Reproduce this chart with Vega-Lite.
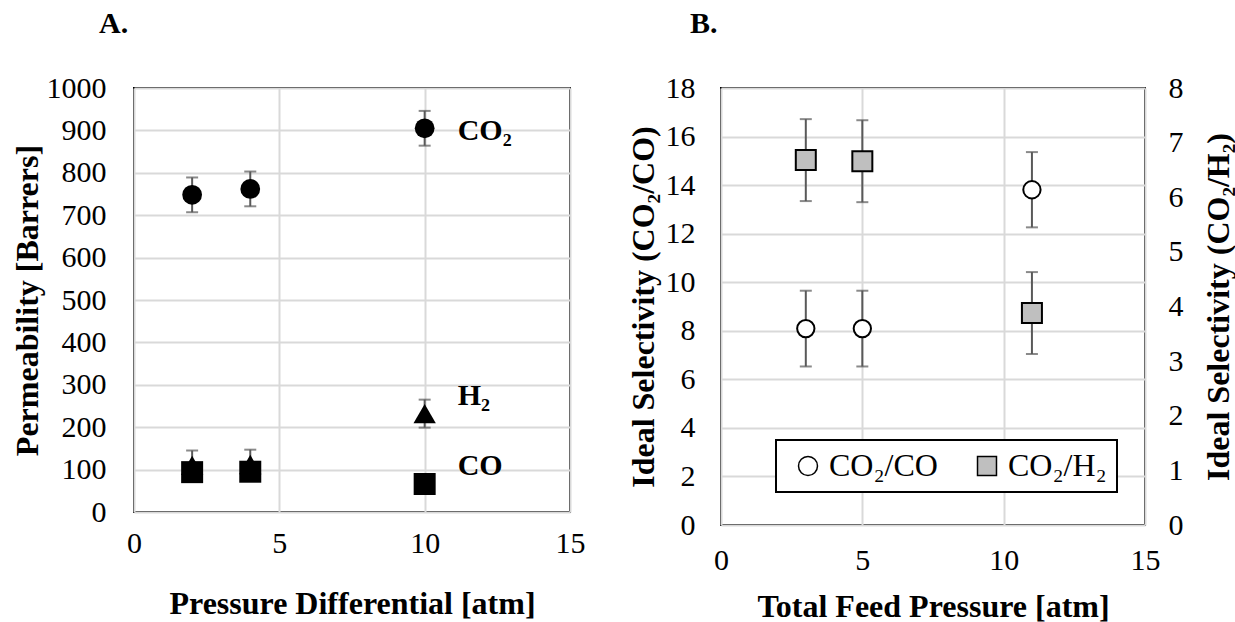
{
  "$schema": "https://vega.github.io/schema/vega-lite/v6.json",
  "autosize": {"type": "pad"},
  "padding": {"left": 10, "top": 8, "right": 0, "bottom": 0},
  "background": "white",
  "spacing": 40,
  "datasets": {
    "perm": [
      {"gas": "CO2", "pressure": 2, "perm": 748, "err": 41},
      {"gas": "CO2", "pressure": 4, "perm": 762, "err": 41},
      {"gas": "CO2", "pressure": 10, "perm": 905, "err": 41},
      {"gas": "H2", "pressure": 2, "perm": 110, "err": 35},
      {"gas": "H2", "pressure": 4, "perm": 112, "err": 35},
      {"gas": "H2", "pressure": 10, "perm": 232, "err": 33},
      {"gas": "CO", "pressure": 2, "perm": 94, "err": null},
      {"gas": "CO", "pressure": 4, "perm": 95, "err": null},
      {"gas": "CO", "pressure": 10, "perm": 66, "err": null}
    ],
    "permLabels": [
      {"pressure": 10, "perm": 899, "label": "CO₂"},
      {"pressure": 10, "perm": 274, "label": "H₂"},
      {"pressure": 10, "perm": 109, "label": "CO"}
    ],
    "sel": [
      {"ratio": "CO₂/CO", "pressure": 3, "sel": 8.09, "err": 1.56},
      {"ratio": "CO₂/CO", "pressure": 5, "sel": 8.09, "err": 1.56},
      {"ratio": "CO₂/CO", "pressure": 11, "sel": 13.81, "err": 1.55},
      {"ratio": "CO₂/H₂", "pressure": 3, "sel": 6.68, "err": 0.75},
      {"ratio": "CO₂/H₂", "pressure": 5, "sel": 6.66, "err": 0.75},
      {"ratio": "CO₂/H₂", "pressure": 11, "sel": 3.88, "err": 0.75}
    ]
  },
  "hconcat": [
    {
      "title": {"text": "A.", "dx": -35},
      "width": 436,
      "height": 424,
      "encoding": {
        "x": {"field": "pressure", "type": "quantitative", "scale": {"domain": [0, 15], "nice": false},
              "axis": {"values": [0, 5, 10, 15], "title": "Pressure Differential [atm]", "labelPadding": 16, "titlePadding": 30}},
        "y": {"field": "perm", "type": "quantitative", "scale": {"domain": [0, 1000], "nice": false},
              "axis": {"values": [0, 100, 200, 300, 400, 500, 600, 700, 800, 900, 1000], "format": "d", "title": "Permeability [Barrers]", "labelPadding": 28, "titlePadding": 2}}
      },
      "layer": [
        {
          "data": {"name": "perm"},
          "transform": [{"filter": "isValid(datum.err)"}],
          "mark": {"type": "errorbar", "ticks": {"size": 12}, "color": "#595959", "thickness": 2},
          "encoding": {"yError": {"field": "err"}}
        },
        {
          "data": {"name": "perm"},
          "transform": [{"filter": "datum.gas === 'CO2'"}],
          "mark": {"type": "point", "shape": "circle", "filled": true, "color": "black", "opacity": 1, "size": 390}
        },
        {
          "data": {"name": "perm"},
          "transform": [{"filter": "datum.gas === 'H2'"}],
          "mark": {"type": "point", "shape": "triangle-up", "filled": true, "color": "black", "opacity": 1, "size": 500}
        },
        {
          "data": {"name": "perm"},
          "transform": [{"filter": "datum.gas === 'CO'"}],
          "mark": {"type": "point", "shape": "square", "filled": true, "color": "black", "opacity": 1, "size": 484}
        },
        {
          "data": {"name": "permLabels"},
          "mark": {"type": "text", "align": "left", "baseline": "middle", "dx": 33, "font": "Liberation Serif", "fontSize": 30, "fontWeight": "bold", "color": "black"},
          "encoding": {"text": {"field": "label"}}
        }
      ]
    },
    {
      "title": {"text": "B.", "dx": -31},
      "width": 424,
      "height": 437,
      "data": {"name": "sel"},
      "encoding": {
        "x": {"field": "pressure", "type": "quantitative", "scale": {"domain": [0, 15], "nice": false},
              "axis": {"values": [0, 5, 10, 15], "title": "Total Feed Pressure [atm]", "labelPadding": 20, "titlePadding": 16}}
      },
      "layer": [
        {
          "transform": [{"filter": "datum.ratio === 'CO₂/CO'"}],
          "encoding": {
            "y": {"field": "sel", "type": "quantitative", "scale": {"domain": [0, 18], "nice": false},
                  "axis": {"values": [0, 2, 4, 6, 8, 10, 12, 14, 16, 18], "orient": "left", "title": "Ideal Selectivity (CO₂/CO)", "labelPadding": 26, "titlePadding": 5}}
          },
          "layer": [
            {
              "mark": {"type": "errorbar", "ticks": {"size": 12}, "color": "#595959", "thickness": 2},
              "encoding": {"yError": {"field": "err"}}
            },
            {
              "mark": {"type": "point", "filled": true, "stroke": "black", "strokeWidth": 2, "size": 300, "opacity": 1},
              "encoding": {
                "shape": {"field": "ratio", "type": "nominal", "scale": {"domain": ["CO₂/CO", "CO₂/H₂"], "range": ["circle", "square"]},
                          "legend": {"title": null, "encode": {"symbols": {"update": {"stroke": {"value": "black"}, "strokeWidth": {"value": 1.5}}}}}},
                "fill": {"field": "ratio", "type": "nominal", "scale": {"domain": ["CO₂/CO", "CO₂/H₂"], "range": ["white", "#bfbfbf"]},
                         "legend": {"title": null, "encode": {"symbols": {"update": {"stroke": {"value": "black"}, "strokeWidth": {"value": 1.5}}}}}}
              }
            }
          ]
        },
        {
          "transform": [{"filter": "datum.ratio === 'CO₂/H₂'"}],
          "encoding": {
            "y": {"field": "sel", "type": "quantitative", "scale": {"domain": [0, 8], "nice": false},
                  "axis": {"values": [0, 1, 2, 3, 4, 5, 6, 7, 8], "orient": "right", "grid": false, "title": "Ideal Selectivity (CO₂/H₂)", "labelPadding": 23, "titlePadding": 20, "titleAngle": 270, "titleBaseline": "top"}}
          },
          "layer": [
            {
              "mark": {"type": "errorbar", "ticks": {"size": 12}, "color": "#595959", "thickness": 2},
              "encoding": {"yError": {"field": "err"}}
            },
            {
              "mark": {"type": "point", "filled": true, "stroke": "black", "strokeWidth": 2, "size": 400, "opacity": 1},
              "encoding": {
                "shape": {"field": "ratio", "type": "nominal", "legend": {"title": null}},
                "fill": {"field": "ratio", "type": "nominal", "legend": {"title": null}}
              }
            }
          ]
        }
      ],
      "resolve": {"scale": {"y": "independent"}}
    }
  ],
  "config": {
    "font": "Liberation Serif",
    "view": {"stroke": "black", "strokeWidth": 2},
    "axis": {
      "domain": false, "ticks": false, "grid": true, "gridColor": "#d9d9d9", "gridWidth": 2,
      "labelFont": "Liberation Serif", "labelFontSize": 30, "labelColor": "black", "labelFlush": false,
      "titleFont": "Liberation Serif", "titleFontSize": 32, "titleFontWeight": "bold", "titleColor": "black"
    },
    "legend": {
      "orient": "none", "legendX": 642, "legendY": 352, "direction": "horizontal",
      "strokeColor": "black", "strokeWidth": 2, "fillColor": "white", "padding": 10,
      "labelFont": "Liberation Serif", "labelFontSize": 32, "labelColor": "black", "labelLimit": 300,
      "symbolSize": 360, "symbolStrokeWidth": 1.5, "symbolStrokeColor": "black", "symbolOpacity": 1,
      "symbolOffset": 6, "columnPadding": 27, "labelOffset": 5
    },
    "title": {"font": "Liberation Serif", "fontSize": 30, "fontWeight": "bold", "color": "black", "anchor": "start", "frame": "group", "offset": 34}
  }
}
